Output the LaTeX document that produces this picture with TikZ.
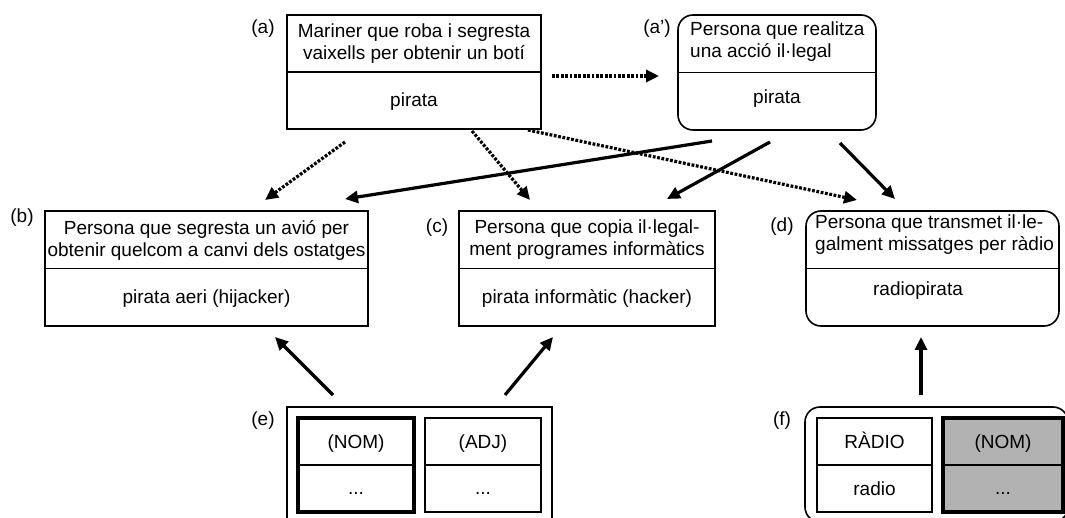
\documentclass[tikz,border=0pt]{standalone}
\usepackage{fontspec}
\setmainfont{Liberation Sans}
\usetikzlibrary{arrows.meta}
\begin{document}
\begin{tikzpicture}[x=1pt,y=-1pt,
  box/.style={draw, line width=1.6pt, inner sep=0pt},
  rbox/.style={box, rounded corners=15pt},
  cell/.style={draw, line width=1.3pt, inner sep=0pt, minimum height=94pt},
  headcell/.style={cell, line width=3.2pt},
  txt/.style={font=\fontsize{19}{22}\selectfont, inner sep=0pt, align=center},
  word/.style={font=\fontsize{19}{22}\selectfont, inner sep=0pt, text height=13.5pt, text depth=4pt},
  rel/.style={line width=3.2pt, -{Triangle[length=13pt,width=12pt]}},
  derived/.style={rel, dash pattern=on 2.8pt off 1.6pt},
]
\useasboundingbox (0,0) rectangle (1065,518);

% ---- concept boxes: definition above, term below ----
\node[box,  minimum width=254pt, minimum height=114pt] (a)  at (414,72)    {};
\node[rbox, minimum width=198pt, minimum height=115pt] (ap) at (777,72.5)  {};
\node[box,  minimum width=323pt, minimum height=115pt] (b)  at (206.5,268.5) {};
\node[box,  minimum width=256pt, minimum height=115pt] (c)  at (587,268.5) {};
\node[rbox, minimum width=253pt, minimum height=115pt] (d)  at (932.5,268.5) {};
\foreach \n in {a,ap,b,c,d}
  \draw[line width=1.6pt] (\n.west) -- (\n.east);

% ---- texts of the concept boxes ----
\node[txt] (at) at (414,44) {Mariner que roba i segresta\\vaixells per obtenir un botí};
\node[word] (aw) at (414,102) {pirata};
\node[txt, align=left, anchor=west] (apt) at (690,41.5) {Persona que realitza\\una acció il·legal};
\node[word] (apw) at (777,99) {pirata};
\node[txt] (bt) at (206.5,240) {Persona que segresta un avió per\\obtenir quelcom a canvi dels ostatges};
\node[word] (bw) at (206.5,299) {pirata aeri (hijacker)};
\node[txt] (ct) at (587,240) {Persona que copia il·legal-\\ment programes informàtics};
\node[word] (cw) at (587,299) {pirata informàtic (hacker)};
\node[txt, align=left, anchor=west] (dt) at (815,235) {Persona que transmet il·le-\\galment missatges per ràdio};
\node[word] (dw) at (918,291) {radiopirata};

% ---- labels ----
\node[word] (la)  at (263,29)  {(a)};
\node[word] (lap) at (657,29)  {(a’)};
\node[word] (lb)  at (22,218)  {(b)};
\node[word] (lc)  at (437,228) {(c)};
\node[word] (ld)  at (782,227) {(d)};
\node[word] (le)  at (263,421) {(e)};
\node[word] (lf)  at (782,421) {(f)};

% ---- compound structures ----
\node[box,  minimum width=265pt, minimum height=115pt] (e) at (419.5,464.5) {};
\node[rbox, minimum width=263pt, minimum height=115pt] (f) at (936.5,464.5) {};

\node[headcell, minimum width=116pt] (e1) at (356,465) {};
\node[cell,     minimum width=116pt] (e2) at (483,465) {};
\node[cell,     minimum width=115pt] (f1) at (874.5,465) {};
\node[headcell, minimum width=120pt, fill=black!30] (f2) at (1003,465) {};
\foreach \n in {e1,e2,f1,f2}
  \draw[line width=1.3pt] (\n.west) -- (\n.east);

\node[word] (e1t) at (356,444) {(NOM)};
\node[word] (e1b) at (356,490) {...};
\node[word] (e2t) at (483,444) {(ADJ)};
\node[word] (e2b) at (483,490) {...};
\node[word] (f1t) at (874.5,444) {RÀDIO};
\node[word] (f1b) at (874.5,491) {radio};
\node[word] (f2t) at (1003,444) {(NOM)};
\node[word] (f2b) at (1003,490) {...};

% ---- connector end points ----
\coordinate (a-ap1) at (552,76);  \coordinate (a-ap2) at (659,76);
\coordinate (a-b1)  at (345,142); \coordinate (a-b2)  at (265,200);
\coordinate (a-c1)  at (472,131); \coordinate (a-c2)  at (530,200);
\coordinate (a-d1)  at (528,130); \coordinate (a-d2)  at (857,200);
\coordinate (ap-b1) at (712,141); \coordinate (ap-b2) at (345,199);
\coordinate (ap-c1) at (770,142); \coordinate (ap-c2) at (667,199);
\coordinate (ap-d1) at (840,143); \coordinate (ap-d2) at (895,199);
\coordinate (e-b1)  at (333,395); \coordinate (e-b2)  at (275,337);
\coordinate (e-c1)  at (505,395); \coordinate (e-c2)  at (553,337);
\coordinate (f-d1)  at (921,395); \coordinate (f-d2)  at (921,337);

% ---- connectors ----
\draw[derived] (a-ap1) -- (a-ap2);
\draw[derived] (a-b1) -- (a-b2);
\draw[derived] (a-c1) -- (a-c2);
\draw[derived] (a-d1) -- (a-d2);
\draw[rel] (ap-b1) -- (ap-b2);
\draw[rel] (ap-c1) -- (ap-c2);
\draw[rel] (ap-d1) -- (ap-d2);
\draw[rel] (e-b1) -- (e-b2);
\draw[rel] (e-c1) -- (e-c2);
\draw[rel] (f-d1) -- (f-d2);
\end{tikzpicture}
\end{document}
